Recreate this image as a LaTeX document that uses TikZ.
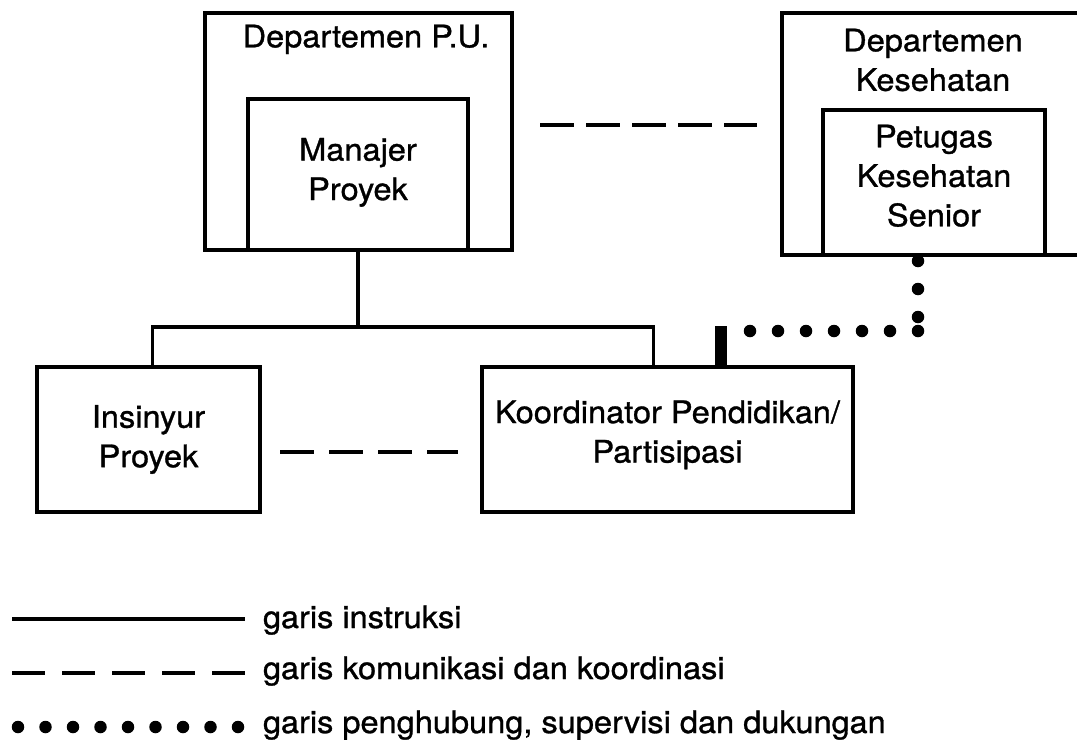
\documentclass[tikz,border=0pt]{standalone}
\usepackage{fontspec}
\setmainfont{TeX Gyre Heros}[FakeStretch=1.05,FakeBold=1]
\usetikzlibrary{calc}
\begin{document}
\begin{tikzpicture}[x=1pt,y=-1pt,
  every node/.style={outer sep=0pt},
  orgbox/.style={draw, line width=3.6pt, rectangle, align=center, inner sep=0pt,
    font=\fontsize{31}{39.5}\selectfont},
  caption/.style={inner sep=0pt, align=center, font=\fontsize{31}{39.5}\selectfont},
  legendtext/.style={inner sep=0pt, font=\fontsize{31}{39.5}\selectfont},
  instr/.style={line width=3.4pt},
  comm/.style={line width=3.6pt, dash pattern=on 34pt off 12pt},
  liaison/.style={line width=12.5pt, line cap=round, dash pattern=on 0pt off 28pt},
  tiebar/.style={fill, draw=none, minimum width=12pt, minimum height=41pt, inner sep=0pt}]

\useasboundingbox (0,0) rectangle (1077,747);
\fill[white] (0,0) rectangle (1077,747);
\clip (0,0) rectangle (1077,747);

% departments and their officers
\node[orgbox, minimum width=307pt, minimum height=237pt] (pu) at (358.5,131.5) {};
\node[caption, anchor=north] (puname) at (366,24.7) {Departemen P.U.};
\node[orgbox, minimum width=220pt, minimum height=151pt, text depth=11pt] (mgr)
  at (358,174.5) {Manajer\\Proyek};

\node[orgbox, minimum width=313pt, minimum height=242pt] (kes) at (938.5,134) {};
\node[caption, anchor=north] (kesname) at (933,28.7) {Departemen\\Kesehatan};
\node[orgbox, minimum width=222pt, minimum height=145pt, text depth=14pt] (pet)
  at (934,182.5) {Petugas\\Kesehatan\\Senior};

\node[orgbox, minimum width=223pt, minimum height=145pt] (ins) at (148.5,439.5) {Insinyur\\Proyek};
\node[orgbox, minimum width=371pt, minimum height=145pt, text depth=16pt] (koo)
  at (667.5,439.5) {Koordinator Pendidikan/\\Partisipasi};

% lines of instruction
\draw[instr] (mgr.south) -- ++(0,77) coordinate (bus);
\draw[instr] ([xshift=4pt]ins.north) |- (bus) -| ([xshift=-14pt]koo.north);

% communication and coordination
\coordinate (commtop) at (0,125);
\draw[comm, shorten <=28pt, shorten >=25pt] (pu.east |- commtop) -- (kes.west |- commtop);
\coordinate (commlow) at (0,452);
\draw[comm, dash pattern=on 34pt off 15pt, shorten <=20pt, shorten >=24pt]
  (ins.east |- commlow) -- (koo.west |- commlow);

% liaison, supervision and support
\node[tiebar, anchor=south] (tie) at ([xshift=53.5pt]koo.north) {};
\coordinate (hook) at (918,331);
\draw[liaison] ($(pet.south -| hook)+(0,6)$) -- (hook);
\draw[liaison] (hook) -- (tie.east |- hook);

% legend
\coordinate (k1a) at (12,619);
\coordinate (k1b) at (245,619);
\draw[instr] (k1a) -- (k1b);
\node[legendtext, anchor=base west] (k1t) at (263,628) {garis instruksi};

\coordinate (k2a) at (12,673);
\coordinate (k2b) at (245,673);
\draw[comm, dash pattern=on 33pt off 17pt] (k2a) -- (k2b);
\node[legendtext, anchor=base west] (k2t) at (263,679) {garis komunikasi dan koordinasi};

\coordinate (k3a) at (18,727);
\coordinate (k3b) at (239,727);
\draw[liaison, dash pattern=on 0pt off 27.5pt] (k3a) -- (k3b);
\node[legendtext, anchor=base west] (k3t) at (263,733) {garis penghubung, supervisi dan dukungan};
\end{tikzpicture}
\end{document}
